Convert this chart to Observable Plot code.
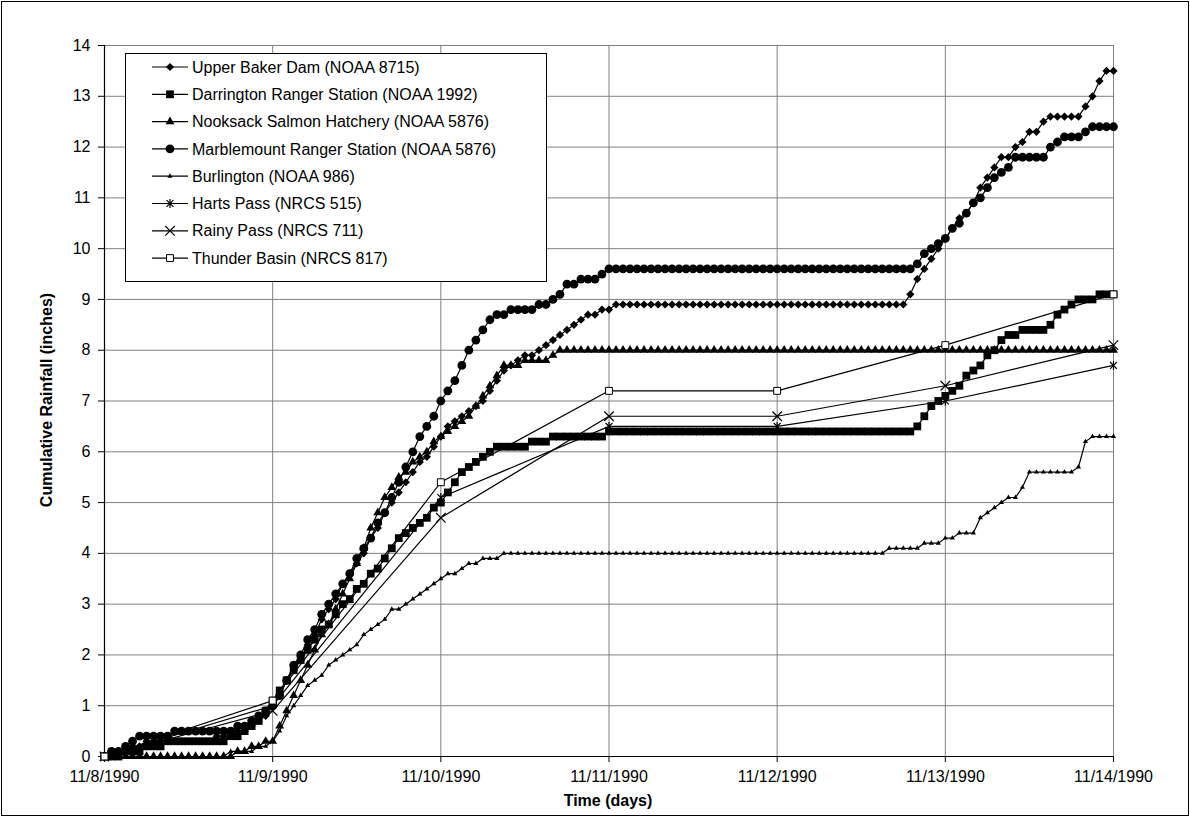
<!DOCTYPE html>
<html>
<head>
<meta charset="utf-8">
<script src="https://cdn.jsdelivr.net/npm/d3@7"></script>
<script src="https://cdn.jsdelivr.net/npm/@observablehq/plot@0.6"></script>
<style>
  body { margin: 0; background: #fff; }
  #chart { position: relative; width: 1190px; height: 817px; }
</style>
</head>
<body>
<div id="chart"></div>
<script>
// ---------- DATA ----------
const dayTicks = ["1990-11-08","1990-11-09","1990-11-10","1990-11-11","1990-11-12","1990-11-13","1990-11-14"];
const dayLabels = ["11/8/1990","11/9/1990","11/10/1990","11/11/1990","11/12/1990","11/13/1990","11/14/1990"];
const yTicks = [0,1,2,3,4,5,6,7,8,9,10,11,12,13,14];

const seriesNames = [
  "Upper Baker Dam (NOAA 8715)",
  "Darrington Ranger Station (NOAA 1992)",
  "Nooksack Salmon Hatchery (NOAA 5876)",
  "Marblemount Ranger Station (NOAA 5876)",
  "Burlington (NOAA 986)",
  "Harts Pass (NRCS 515)",
  "Rainy Pass (NRCS 711)",
  "Thunder Basin (NRCS 817)"
];

// Hourly cumulative rainfall (inches), 11/8/1990 00:00 to 11/14/1990 00:00
const upperBaker = [
  0,0,0.1,0.1,0.2,0.2,0.3,0.3,0.3,0.3,0.3,0.3,0.3,0.3,0.3,0.3,0.4,0.4,0.4,0.5,0.5,0.6,0.7,0.8,
  1.0,1.2,1.5,1.7,1.9,2.2,2.4,2.7,2.9,3.1,3.4,3.6,3.8,4.0,4.3,4.5,4.8,5.0,5.2,5.4,5.6,5.8,5.9,6.1,6.3,
  6.5,6.6,6.7,6.8,6.9,7.0,7.2,7.4,7.6,7.7,7.8,7.9,7.9,8.0,8.1,8.2,8.3,8.4,8.5,8.6,8.7,8.7,8.8,8.8,8.9,
  8.9,8.9,8.9,8.9,8.9,8.9,8.9,8.9,8.9,8.9,
  8.9,8.9,8.9,8.9,8.9,8.9,8.9,8.9,8.9,8.9,
  8.9,8.9,8.9,8.9,8.9,8.9,8.9,8.9,8.9,8.9,
  8.9,8.9,8.9,8.9,8.9,8.9,8.9,8.9,8.9,8.9,
  8.9,
  9.1,9.4,9.6,9.8,10.0,10.2,10.4,10.6,10.7,10.9,11.2,11.4,11.6,11.8,11.8,12.0,12.1,12.3,12.3,12.5,
  12.6,12.6,12.6,12.6,12.6,12.8,13.0,13.3,13.5,13.5
];
const darrington = [
  0,0,0,0.1,0.1,0.1,0.2,0.2,0.2,0.3,0.3,0.3,0.3,0.3,0.3,0.3,0.3,0.3,0.4,0.4,0.5,0.6,0.7,0.9,
  1.1,1.3,1.5,1.7,1.9,2.1,2.3,2.5,2.6,2.8,3.0,3.1,3.3,3.4,3.6,3.7,3.9,4.1,4.3,4.4,4.5,4.6,4.7,4.9,5.0,
  5.2,5.4,5.6,5.7,5.8,5.9,6.0,6.1,6.1,6.1,6.1,6.1,6.2,6.2,6.2,6.3,6.3,6.3,6.3,6.3,6.3,6.3,6.3,6.4,
  6.4,6.4,6.4,6.4,6.4,6.4,6.4,6.4,6.4,6.4,
  6.4,6.4,6.4,6.4,6.4,6.4,6.4,6.4,6.4,6.4,
  6.4,6.4,6.4,6.4,6.4,6.4,6.4,6.4,6.4,6.4,
  6.4,6.4,6.4,6.4,6.4,6.4,6.4,6.4,6.4,6.4,
  6.4,6.4,6.4,
  6.5,6.7,6.9,7.0,7.1,7.2,7.3,7.5,7.6,7.7,7.9,8.0,8.2,8.3,8.3,8.4,8.4,8.4,8.4,8.5,
  8.7,8.8,8.9,9.0,9.0,9.0,9.1,9.1,9.1
];
const nooksack = [
  0,0,0,0,0,0,0,0,0,0,0,0,0,0,0,0,0,0,0,
  0.1,0.1,0.2,0.2,0.3,
  0.3,0.6,0.9,1.2,1.5,1.8,2.1,2.4,2.6,2.9,3.2,3.5,3.8,4.1,4.5,4.8,5.1,5.3,5.5,5.6,5.8,5.9,6.0,6.2,6.3,
  6.4,6.5,6.6,6.7,6.9,7.1,7.3,7.5,7.7,7.7,7.7,7.8,7.8,7.8,7.8,7.9,8.0,8.0,
  8.0,8.0,8.0,8.0,8.0,8.0,8.0,8.0,8.0,8.0,
  8.0,8.0,8.0,8.0,8.0,8.0,8.0,8.0,8.0,8.0,
  8.0,8.0,8.0,8.0,8.0,8.0,8.0,8.0,8.0,8.0,
  8.0,8.0,8.0,8.0,8.0,8.0,8.0,8.0,8.0,8.0,
  8.0,8.0,8.0,8.0,8.0,8.0,8.0,8.0,8.0,8.0,
  8.0,8.0,8.0,8.0,8.0,8.0,8.0,8.0,8.0,8.0,
  8.0,8.0,8.0,8.0,8.0,8.0,8.0,8.0,8.0,8.0,
  8.0,8.0,8.0,8.0,8.0,8.0,8.0,8.0
];
const marblemount = [
  0,0.1,0.1,0.2,0.3,0.4,0.4,0.4,0.4,0.4,0.5,0.5,0.5,0.5,0.5,0.5,0.5,0.5,0.5,0.6,0.6,0.7,0.8,0.9,
  1.0,1.2,1.5,1.8,2.0,2.3,2.5,2.8,3.0,3.2,3.4,3.6,3.9,4.1,4.3,4.6,4.8,5.1,5.4,5.7,6.0,6.3,6.5,6.7,7.0,
  7.2,7.4,7.7,8.0,8.2,8.4,8.6,8.7,8.7,8.8,8.8,8.8,8.8,8.9,8.9,9.0,9.1,9.3,9.3,9.4,9.4,9.4,9.5,9.6,9.6,
  9.6,9.6,9.6,9.6,9.6,9.6,9.6,9.6,9.6,9.6,
  9.6,9.6,9.6,9.6,9.6,9.6,9.6,9.6,9.6,9.6,
  9.6,9.6,9.6,9.6,9.6,9.6,9.6,9.6,9.6,9.6,
  9.6,9.6,9.6,9.6,9.6,9.6,9.6,9.6,9.6,9.6,
  9.6,9.6,
  9.7,9.9,10.0,10.1,10.2,10.4,10.5,10.7,10.9,11.0,11.2,11.4,11.5,11.6,11.8,11.8,11.8,11.8,11.8,12.0,
  12.1,12.2,12.2,12.2,12.3,12.4,12.4,12.4,12.4
];
const burlington = [
  0,0,0,0,0,0,0,0,0,0,0,0,0,0,0,0,0,0,
  0.1,0.1,0.1,0.1,0.2,0.2,
  0.3,0.5,0.8,1.0,1.2,1.4,1.5,1.6,1.8,1.9,2.0,2.1,2.2,2.4,2.5,2.6,2.7,2.9,2.9,3.0,3.1,3.2,3.3,3.4,3.5,
  3.6,3.6,3.7,3.8,3.8,3.9,3.9,3.9,4.0,
  4.0,4.0,4.0,4.0,4.0,4.0,4.0,4.0,4.0,4.0,
  4.0,4.0,4.0,4.0,4.0,4.0,4.0,4.0,4.0,4.0,
  4.0,4.0,4.0,4.0,4.0,4.0,4.0,4.0,4.0,4.0,
  4.0,4.0,4.0,4.0,4.0,4.0,4.0,4.0,4.0,4.0,
  4.0,4.0,4.0,4.0,4.0,4.0,4.0,4.0,4.0,4.0,
  4.0,4.0,4.0,4.0,
  4.1,4.1,4.1,4.1,4.1,4.2,4.2,4.2,4.3,4.3,4.4,4.4,4.4,4.7,4.8,4.9,5.0,5.1,5.1,5.3,
  5.6,5.6,5.6,5.6,5.6,5.6,5.6,5.7,6.2,6.3,6.3,6.3,6.3
];
// Daily readings (NRCS snotel), 11/8 .. 11/14
const hartsPass    = [0, 1.0, 5.1, 6.5, 6.5, 7.0, 7.7];
const rainyPass    = [0, 0.9, 4.7, 6.7, 6.7, 7.3, 8.1];
const thunderBasin = [0, 1.1, 5.4, 7.2, 7.2, 8.1, 9.1];

// ---------- BUILD ----------
const dayDates = dayTicks.map(s => new Date(s + "T00:00:00Z"));
const t0 = dayDates[0].getTime();
const hourly = (arr) => arr.map((v, i) => ({t: new Date(t0 + i * 3600000), v}));
const daily = (arr) => arr.map((v, i) => ({t: dayDates[i], v}));

const starSymbol = {
  draw(ctx, size) {
    const r = Math.sqrt(size / Math.PI) * 1.05;
    const a = r * 0.78;
    ctx.moveTo(-a, -a); ctx.lineTo(a, a);
    ctx.moveTo(-a, a); ctx.lineTo(a, -a);
    ctx.moveTo(0, -r); ctx.lineTo(0, r);
  }
};
const timesSymbol = d3.symbolTimes || {
  draw(ctx, size) {
    const r = Math.sqrt(size / Math.PI) * 1.05;
    ctx.moveTo(-r, -r); ctx.lineTo(r, r); ctx.moveTo(-r, r); ctx.lineTo(r, -r);
  }
};
const diamondSymbol = d3.symbolDiamond2 || {
  draw(ctx, size) {
    const r = Math.sqrt(size) * 0.62625;
    ctx.moveTo(0, -r); ctx.lineTo(r, 0); ctx.lineTo(0, r); ctx.lineTo(-r, 0); ctx.closePath();
  }
};

const styles = [
  {data: hourly(upperBaker),   symbol: diamondSymbol,     r: 3.7, fill: "#000", stroke: "none", sw: 1},
  {data: hourly(darrington),   symbol: d3.symbolSquare,   r: 4.4, fill: "#000", stroke: "none", sw: 1},
  {data: hourly(nooksack),     symbol: d3.symbolTriangle, r: 3.3, fill: "#000", stroke: "none", sw: 1},
  {data: hourly(marblemount),  symbol: d3.symbolCircle,   r: 4.4, fill: "#000", stroke: "none", sw: 1},
  {data: hourly(burlington),   symbol: d3.symbolTriangle, r: 1.9, fill: "#000", stroke: "none", sw: 1},
  {data: daily(hartsPass),     symbol: starSymbol,        r: 4.2, fill: "none", stroke: "#000", sw: 1.2},
  {data: daily(rainyPass),     symbol: timesSymbol,       r: 4.4, fill: "none", stroke: "#000", sw: 1.2},
  {data: daily(thunderBasin),  symbol: d3.symbolSquare,   r: 3.9, fill: "#fff", stroke: "#000", sw: 1}
];

const fmt = d => { const i = dayDates.findIndex(x => +x === +d); return i >= 0 ? dayLabels[i] : ""; };

const seriesMarks = styles.flatMap(s => [
  Plot.line(s.data, {x: "t", y: "v", stroke: "#000", strokeWidth: 1.2}),
  Plot.dot(s.data, {x: "t", y: "v", symbol: s.symbol, r: s.r, fill: s.fill, stroke: s.stroke, strokeWidth: s.sw})
]);

const W = 1190, H = 817;
const svgEl = Plot.plot({
  width: W, height: H,
  marginLeft: 104, marginRight: 77, marginTop: 45, marginBottom: 61,
  style: {fontFamily: "'Liberation Sans', Arial, sans-serif", fontSize: "16px", color: "#000", background: "#fff", overflow: "visible"},
  x: {type: "utc", domain: [dayDates[0], dayDates[6]], axis: null},
  y: {domain: [0, 14], axis: null},
  marks: [
    Plot.gridY(yTicks, {stroke: "#808080", strokeOpacity: 1}),
    Plot.gridX(dayDates, {stroke: "#808080", strokeOpacity: 1}),
    Plot.axisY(yTicks, {tickSize: 6, tickPadding: 8, fontSize: 16, label: null, stroke: "#000", tickFormat: d => String(d)}),
    Plot.axisX(dayDates, {tickSize: 6, tickPadding: 8, fontSize: 16, label: null, tickFormat: fmt, stroke: "#000"}),
    Plot.ruleX([dayDates[0]], {stroke: "#000", strokeWidth: 1.2}),
    Plot.ruleY([0], {stroke: "#000", strokeWidth: 1.2}),
    ...seriesMarks
  ]
});
document.getElementById("chart").appendChild(svgEl);

// ---------- DECORATION: border, titles, legend ----------
const svg = d3.select(svgEl);
svg.append("rect").attr("x", 1.5).attr("y", 1.5).attr("width", W - 3).attr("height", H - 3)
  .attr("fill", "none").attr("stroke", "#000").attr("stroke-width", 1);

svg.append("text").attr("transform", "translate(46,400) rotate(-90)")
  .attr("text-anchor", "middle").attr("dy", "0.35em")
  .attr("font-weight", "bold").attr("font-size", 16).attr("fill", "#000")
  .text("Cumulative Rainfall (inches)");
svg.append("text").attr("x", 608).attr("y", 800)
  .attr("text-anchor", "middle").attr("dy", "0.35em")
  .attr("font-weight", "bold").attr("font-size", 16).attr("fill", "#000")
  .text("Time (days)");

const lg = svg.append("g").attr("text-anchor", "start");
lg.append("rect").attr("x", 125.5).attr("y", 53.5).attr("width", 421).attr("height", 228)
  .attr("fill", "#fff").attr("stroke", "#000").attr("stroke-width", 1);
seriesNames.forEach((name, i) => {
  const s = styles[i];
  const y = 67 + 27.3 * i;
  lg.append("line").attr("x1", 152).attr("x2", 188).attr("y1", y).attr("y2", y)
    .attr("stroke", "#000").attr("stroke-width", 1.2);
  lg.append("path").attr("d", d3.symbol(s.symbol, Math.PI * s.r * s.r)())
    .attr("transform", `translate(170,${y})`)
    .attr("fill", s.fill).attr("stroke", s.stroke).attr("stroke-width", s.sw);
  lg.append("text").attr("x", 192).attr("y", y).attr("dy", "0.35em").attr("text-anchor", "start")
    .attr("font-size", 16).attr("fill", "#000").text(name);
});
</script>
</body>
</html>
